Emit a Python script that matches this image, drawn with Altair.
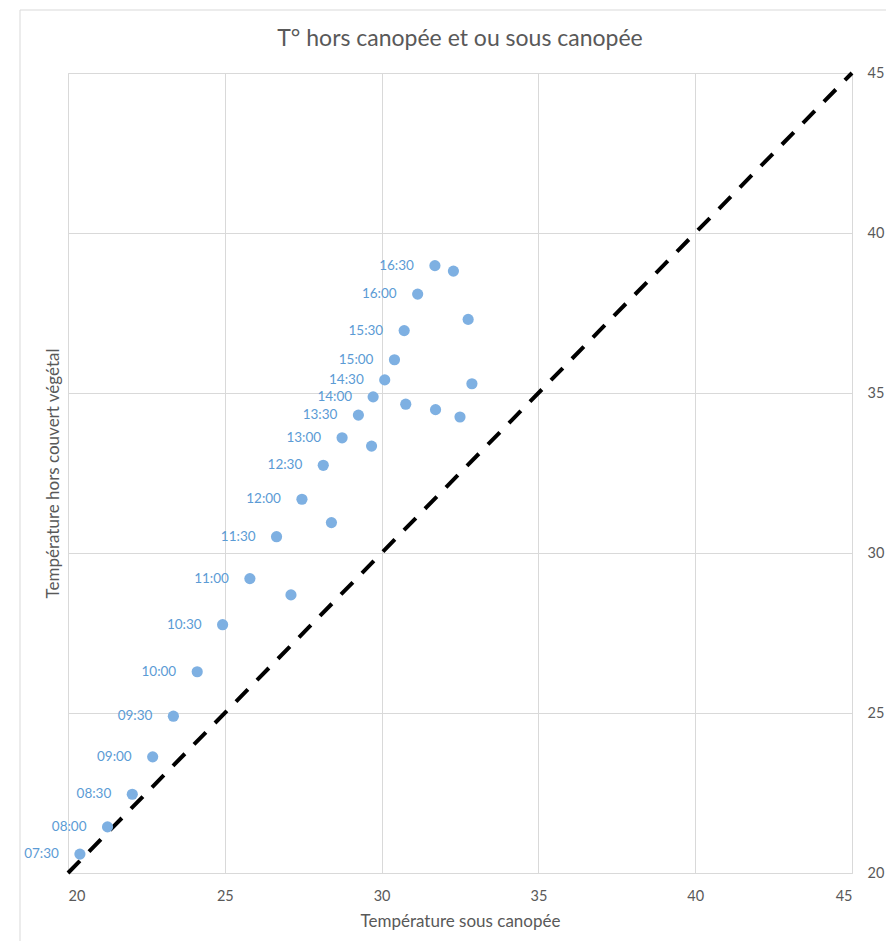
import altair as alt
import pandas as pd

# Labelled points (time of day)
times = ["07:30", "08:00", "08:30", "09:00", "09:30", "10:00", "10:30", "11:00",
         "11:30", "12:00", "12:30", "13:00", "13:30", "14:00", "14:30", "15:00",
         "15:30", "16:00", "16:30"]
x_sous = [20.38, 21.26, 22.05, 22.70, 23.36, 24.12, 24.93, 25.80, 26.65, 27.46,
          28.14, 28.74, 29.26, 29.73, 30.10, 30.41, 30.72, 31.15, 31.70]
y_hors = [20.59, 21.44, 22.46, 23.63, 24.90, 26.29, 27.76, 29.20, 30.51, 31.68,
          32.74, 33.60, 34.31, 34.88, 35.41, 36.04, 36.95, 38.09, 38.98]

# Unlabelled points
x_sous_b = [32.29, 32.76, 32.88, 32.50, 31.72, 30.77, 29.68, 28.40, 27.11]
y_hors_b = [38.81, 37.30, 35.29, 34.25, 34.48, 34.65, 33.34, 30.95, 28.69]

# 1:1 reference line
diag_vals = [20, 45]
ticks = [20, 25, 30, 35, 40, 45]

pts = pd.DataFrame({"x": x_sous + x_sous_b, "y": y_hors + y_hors_b})
labs = pd.DataFrame({"x": x_sous, "y": y_hors, "t": times})
diag = pd.DataFrame({"x": diag_vals, "y": diag_vals})

FONT = "Lato"
GREY = "#595959"
W, H = 784, 800

xenc = alt.X("x:Q", scale=alt.Scale(domain=[20, 45], nice=False),
             axis=alt.Axis(values=ticks, domain=False, ticks=False, grid=True,
                           gridColor="#D9D9D9", labelColor=GREY, labelFontSize=14.5,
                           labelFont=FONT, labelPadding=16, titleFont=FONT,
                           titleFontSize=17, titleColor=GREY, titleFontWeight="normal",
                           titlePadding=11),
             title="Température sous canopée")
yenc = alt.Y("y:Q", scale=alt.Scale(domain=[20, 45], nice=False),
             axis=alt.Axis(orient="right", values=ticks, domain=False, ticks=False,
                           grid=True, gridColor="#D9D9D9", labelColor=GREY,
                           labelFontSize=14.5, labelFont=FONT, labelPadding=15,
                           titleFont=FONT, titleFontSize=17, titleColor=GREY,
                           titleFontWeight="normal", titleAngle=270,
                           titleX=-(W + 15), titleY=H / 2, titleAlign="center",
                           titleBaseline="middle"),
             title="Température hors couvert végétal")

border = alt.Chart(pd.DataFrame({"a": [0]})).mark_rect(
    fill=None, stroke="#D9D9D9", strokeWidth=1
).encode(x=alt.value(-48), x2=alt.value(W + 200), y=alt.value(-63), y2=alt.value(H + 200))

line = alt.Chart(diag).mark_line(color="black", strokeWidth=4, strokeDash=[17, 13]).encode(
    x=xenc, y=yenc)

dots = alt.Chart(pts).mark_circle(size=125, color="#7EB0E2", opacity=1).encode(
    x=xenc, y=yenc)

texts = alt.Chart(labs).mark_text(align="right", baseline="middle", dx=-21,
                                  color="#5B9BD5", fontSize=13.5, font=FONT).encode(
    x=xenc, y=yenc, text="t:N")

chart = alt.layer(border, line, dots, texts).properties(
    width=W, height=H,
    title=alt.TitleParams("T° hors canopée et ou sous canopée", font=FONT, fontSize=23,
                          color=GREY, fontWeight="normal", anchor="middle",
                          frame="group", offset=0, baseline="alphabetic", dy=59),
    autosize=alt.AutoSizeParams(type="none"),
    padding={"left": 60, "top": 65, "right": 34, "bottom": 68},
).configure_view(stroke=None).configure(background="white")

chart.save("out.html", embed_options={"renderer": "svg", "actions": False})
